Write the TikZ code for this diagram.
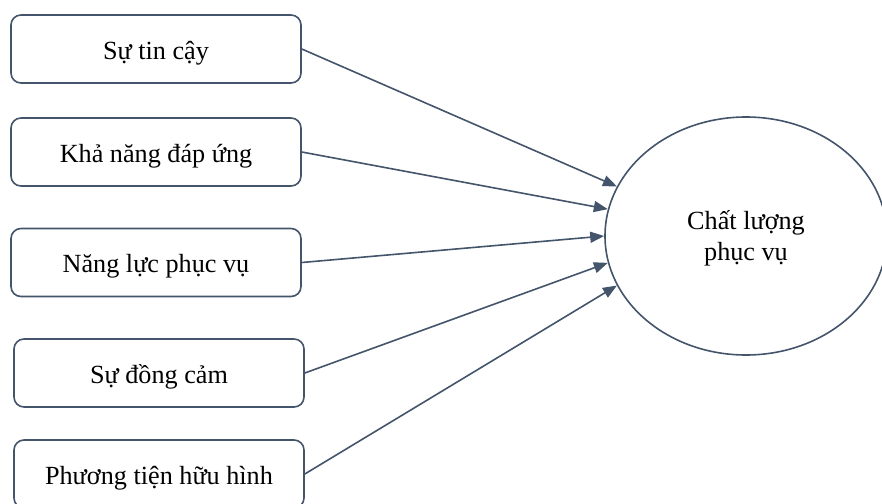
\documentclass[tikz,border=0pt]{standalone}
\usepackage{fontspec}
\setmainfont{Liberation Serif}
\usepackage{xcolor}
\usepackage{tikz}
\usetikzlibrary{arrows.meta, shapes.geometric}

\definecolor{slate}{HTML}{44546A}

\begin{document}
\begin{tikzpicture}[x=0.5pt, y=-0.5pt,
		factor/.style={rectangle, draw=slate, line width=0.8pt, rounded corners=5pt, minimum width=145pt, minimum height=34pt, text height=13pt, text depth=3pt, align=center, font=\fontsize{13.1}{15.5}\selectfont},
		quality/.style={ellipse, draw=slate, line width=0.8pt, minimum width=141pt, minimum height=119pt, inner sep=0pt, text depth=0pt, align=center, font=\fontsize{13.1}{15.5}\selectfont},
		link/.style={draw=slate, line width=0.8pt, -{Triangle[length=7pt, width=5.5pt]}}]
		\useasboundingbox (0,0) rectangle (882,503);
		\clip (0,0) rectangle (882,503);
		\node[factor] (tincay) at (156,49) {Sự tin cậy};
		\node[factor] (dapung) at (156,152) {Khả năng đáp ứng};
		\node[factor] (nangluc) at (156,262.5) {Năng lực phục vụ};
		\node[factor] (dongcam) at (159,373) {Sự đồng cảm};
		\node[factor] (huuhinh) at (159,474) {Phương tiện hữu hình};
		\node[quality] (chatluong) at (746,236) {Chất lượng\\phục vụ};
		
		\draw[link] (tincay.east) -- (chatluong.159);
		\draw[link] (dapung.east) -- (chatluong.169);
		\draw[link] (nangluc.east) -- (chatluong.180);
		\draw[link] (dongcam.east) -- (chatluong.191);
		\draw[link] (huuhinh.east) -- (chatluong.201);
		\end{tikzpicture}
\end{document}
